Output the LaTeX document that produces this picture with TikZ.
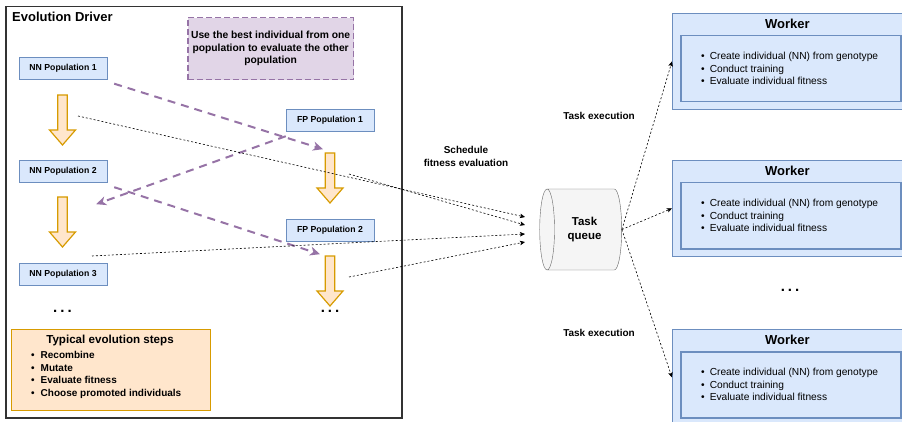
\documentclass[tikz,border=0pt]{standalone}
\usepackage{fontspec}
\setmainfont{Liberation Sans}
\usetikzlibrary{arrows.meta,shapes,calc,positioning}
\definecolor{blueF}{HTML}{DAE8FC}
\definecolor{blueB}{HTML}{6C8EBF}
\definecolor{purpleF}{HTML}{E1D5E7}
\definecolor{purpleB}{HTML}{9673A6}
\definecolor{orangeF}{HTML}{FFE6CC}
\definecolor{orangeB}{HTML}{D79B00}
\definecolor{grayF}{HTML}{F5F5F5}
\definecolor{grayB}{HTML}{666666}
\newcommand{\fsz}[2]{\fontsize{#1}{#2}\selectfont}
\newcommand{\bigdots}{\fsz{15}{16}\bfseries .\hspace{3pt}.\hspace{3pt}.}
\tikzset{
    >={Stealth[length=5pt, width=4.5pt, inset=1pt]},
    pop/.style={draw=blueB, fill=blueF, minimum width=88pt, minimum height=22pt,
        inner sep=0pt, font=\fsz{8.7}{10}\bfseries},
    flow/.pic={
        \draw[draw=orangeB, fill=orangeF, line width=1.2pt, line join=miter]
            (-4.75,0) -- (4.75,0) -- (4.75,35) -- (13,35) -- (0,50)
            -- (-13,35) -- (-4.75,35) -- cycle;
    },
    best/.style={-{Stealth[length=10pt, width=9pt, inset=3pt]}, draw=purpleB,
        line width=2pt, dash pattern=on 8pt off 6pt},
    sched/.style={->, line width=0.6pt, dash pattern=on 2pt off 2pt},
    wbox/.style={draw=blueB, fill=blueF, anchor=north west, line width=0.8pt},
    lbl/.style={font=\fsz{10}{12.5}\bfseries, align=center},
}

\begin{document}
\begin{tikzpicture}[x=1pt, y=-1pt]
    \useasboundingbox (0,0) rectangle (902,422);

    % evolution driver
    \node[draw=black!80, line width=1.5pt, anchor=north west, minimum width=396pt,
        minimum height=411pt] (driver) at (5,6) {};
    \node[anchor=west, font=\fsz{13}{15}\bfseries, inner sep=0pt] (drvtitle) at (12,17) {Evolution Driver};
    \node[draw=purpleB, fill=purpleF, line width=1.5pt, dash pattern=on 6pt off 3pt,
        anchor=north west, minimum width=165pt, minimum height=62pt, align=center,
        font=\fsz{10.3}{12.5}\bfseries] (note) at (187,17)
        {Use the best individual from one\\population to evaluate the other\\population};

    \node[pop] (nn1) at (63,68.5) {NN Population 1};
    \node[pop] (nn2) at (63,171) {NN Population 2};
    \node[pop] (nn3) at (63,274) {NN Population 3};
    \node[pop] (fp1) at (330,120) {FP Population 1};
    \node[pop] (fp2) at (330,230) {FP Population 2};

    \pic at (62.5,95) {flow};
    \pic at (62.5,197) {flow};
    \pic at (330,153) {flow};
    \pic at (330,256) {flow};

    \node[inner sep=0pt] (nndots) at (62.5,311) {\bigdots};
    \node[inner sep=0pt] (fpdots) at (330,311) {\bigdots};

    \node[draw=orangeB, fill=orangeF, line width=1.2pt, anchor=north west,
        minimum width=199pt, minimum height=81pt] (steps) at (11,329) {};
    \node[font=\fsz{11.6}{13}\bfseries, inner sep=0pt] (stepstitle) at (110,340) {Typical evolution steps};
    \node[anchor=north west, font=\fsz{10}{12.5}\bfseries, inner sep=0pt] (stepslist) at (31,350)
        {\begin{tabular}{@{}l@{\hspace{6pt}}l@{}}
            \textbullet & Recombine\\
            \textbullet & Mutate\\
            \textbullet & Evaluate fitness\\
            \textbullet & Choose promoted individuals
        \end{tabular}};

    % best individual exchange
    \draw[best] ($(nn1.south east)+(7,4)$) -- ($(fp1.south)+(-7,18)$);
    \draw[best] ($(fp1.south west)+(0,5)$) -- ($(nn2.south east)+(-11,22)$);
    \draw[best] ($(nn2.south east)+(7,5)$) -- ($(fp2.south)+(-10,13)$);

    % task queue
    \node[cylinder, shape border rotate=180, draw=grayB, fill=grayF, aspect=0.6,
        minimum width=81pt, minimum height=82pt, font=\fsz{11.5}{14}\bfseries, align=center,
        inner sep=0pt] (queue) at (584.5,229.5) {Task\\queue};

    \coordinate (s1) at (78,116);
    \coordinate (s2) at (349,174);
    \coordinate (s3) at (92,256);
    \coordinate (s4) at (349,277);
    \coordinate (in1) at (525,217);
    \coordinate (in2) at (525,225);
    \coordinate (in3) at (525,234);
    \coordinate (in4) at (525,242);
    \foreach \i in {1,...,4}
        \draw[sched] (s\i) -- (in\i);

    \node[lbl] (schedlbl) at (466,156.5) {Schedule\\fitness evaluation};
    \node[lbl] (exec1) at (599,116) {Task execution};
    \node[lbl] (exec2) at (599,333) {Task execution};

    % workers
    \foreach \n/\y in {1/13, 2/160, 3/329} {
        \node[wbox, minimum width=230pt, minimum height=96pt] (w\n) at (672,\y) {};
        \node[font=\fsz{13}{15}\bfseries, inner sep=0pt] (wt\n) at ($(w\n.north)+(0,11)$) {Worker};
        \node[wbox, line width=1.5pt, minimum width=220pt, minimum height=66pt] (wi\n)
            at ($(w\n.north west)+(8,22)$) {};
        \node[anchor=west, font=\fsz{10.2}{12.5}, inner sep=0pt] (wl\n) at ($(wi\n.west)+(21,1)$)
            {\begin{tabular}{@{}l@{\hspace{5pt}}l@{}}
                \textbullet & Create individual (NN) from genotype\\
                \textbullet & Conduct training\\
                \textbullet & Evaluate individual fitness
            \end{tabular}};
    }
    \node[inner sep=0pt] (wdots) at (790,290) {\bigdots};

    \foreach \n in {1,2,3}
        \draw[sched] (queue.east) -- (w\n.west);
\end{tikzpicture}
\end{document}
